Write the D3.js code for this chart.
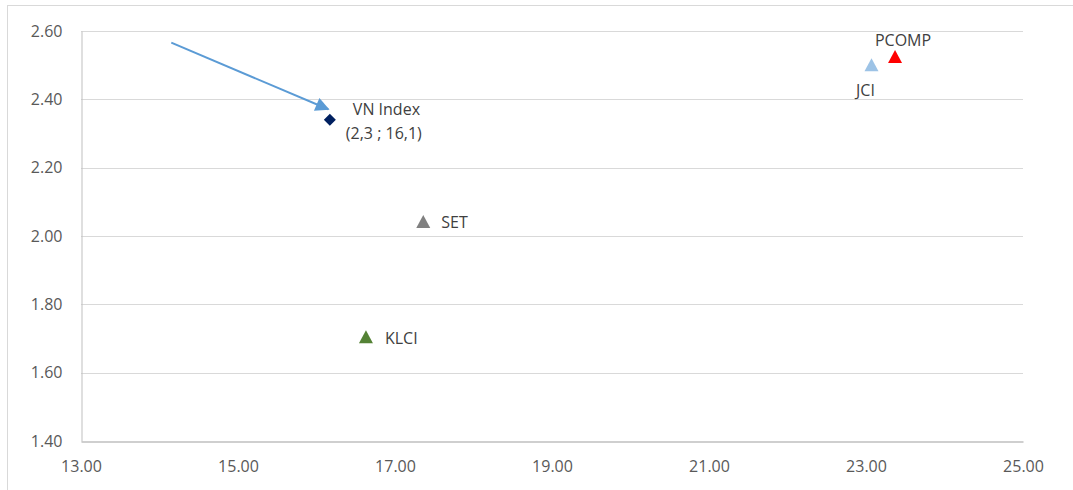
<!DOCTYPE html>
<html>
<head>
<meta charset="utf-8">
<script src="https://cdn.jsdelivr.net/npm/d3@7"></script>
<style>
  body { margin: 0; background: #fff; }
  svg text { font-family: "Open Sans", sans-serif; }
</style>
</head>
<body>
<div id="chart"></div>
<script>
// markets: label, P/B-ish (y) vs P/E-ish (x)
var names = ["VN Index", "JCI", "PCOMP", "SET", "KLCI"];
var xVals = [16.17, 23.07, 23.37, 17.36, 16.63];
var yVals = [2.34, 2.50, 2.524, 2.041, 1.704];
var shapes = ["diamond", "triangle", "triangle", "triangle", "triangle"];
var colors = ["#002060", "#9dc3e6", "#ff0000", "#808080", "#548235"];
var xTicks = [13, 15, 17, 19, 21, 23, 25];
var yTicks = [1.4, 1.6, 1.8, 2.0, 2.2, 2.4, 2.6];
// arrow annotation, start and end in data units
var arrowX = [14.15, 16.15];
var arrowY = [2.566, 2.371];

var W = 1073, H = 490,
	margin = {left: 81, right: 50, top: 31, bottom: 49};

var svg = d3.select("#chart").append("svg")
	.attr("width", W)
	.attr("height", H);

// outer frame
svg.append("rect")
	.attr("x", 7.5).attr("y", 5.5)
	.attr("width", W + 20).attr("height", H + 20)
	.attr("fill", "none")
	.attr("stroke", "#d9d9d9");

var x = d3.scaleLinear().domain([13, 25]).range([margin.left, W - margin.right]);
var y = d3.scaleLinear().domain([1.4, 2.6]).range([H - margin.bottom, margin.top]);

// gridlines
svg.append("g")
	.selectAll("line")
	.data(yTicks.slice(1))
	.join("line")
	.attr("x1", x(13)).attr("x2", x(25))
	.attr("y1", function(d){ return Math.round(y(d)) + 0.5; })
	.attr("y2", function(d){ return Math.round(y(d)) + 0.5; })
	.attr("stroke", "#d9d9d9")
	.attr("stroke-width", 1);

var yAxis = svg.append("g")
	.attr("transform", "translate(" + (x(13) + 0.5) + ",0)")
	.call(d3.axisLeft(y).tickValues(yTicks).tickFormat(d3.format(".2f")).tickSize(0).tickPadding(19));
yAxis.select(".domain").attr("stroke", "#bfbfbf");
yAxis.selectAll("text").attr("fill", "#595959").style("font-size", "16px");

var xAxis = svg.append("g")
	.attr("transform", "translate(0," + (y(1.4) + 0.5) + ")")
	.call(d3.axisBottom(x).tickValues(xTicks).tickFormat(d3.format(".2f")).tickSize(0).tickPadding(19));
xAxis.select(".domain").attr("stroke", "#bfbfbf").attr("stroke-width", 1.5);
xAxis.selectAll("text").attr("fill", "#595959").style("font-size", "16px");

// arrow
var defs = svg.append("defs");
defs.append("marker")
	.attr("id", "head")
	.attr("viewBox", "0 0 10 10")
	.attr("refX", 9).attr("refY", 5)
	.attr("markerWidth", 16).attr("markerHeight", 14)
	.attr("markerUnits", "userSpaceOnUse")
	.attr("orient", "auto")
	.append("path")
	.attr("d", "M0,0 L10,5 L0,10 Z")
	.attr("fill", "#5b9bd5");

svg.append("line")
	.attr("x1", x(arrowX[0])).attr("y1", y(arrowY[0]))
	.attr("x2", x(arrowX[1])).attr("y2", y(arrowY[1]))
	.attr("stroke", "#5b9bd5")
	.attr("stroke-width", 2)
	.attr("marker-end", "url(#head)");

// points
var pts = names.map(function(n, i){
	return {name: n, x: xVals[i], y: yVals[i], shape: shapes[i], color: colors[i]};
});

svg.append("g")
	.selectAll("path")
	.data(pts)
	.join("path")
	.attr("transform", function(d){ return "translate(" + x(d.x) + "," + y(d.y) + ")"; })
	.attr("d", function(d){
		return d.shape == "diamond" ? "M0,-6 L6,0 L0,6 L-6,0 Z" : "M0,-7 L7,6 L-7,6 Z";
	})
	.attr("fill", function(d){ return d.color; });

// labels
var labelPos = {
	"VN Index": {dx: 23, dy: -10, anchor: "start"},
	"JCI": {dx: -6, dy: 25, anchor: "middle"},
	"PCOMP": {dx: 8, dy: -17, anchor: "middle"},
	"SET": {dx: 18, dy: 0, anchor: "start"},
	"KLCI": {dx: 19, dy: 1, anchor: "start"}
};

svg.append("g")
	.selectAll("text")
	.data(pts)
	.join("text")
	.attr("x", function(d){ return x(d.x) + labelPos[d.name].dx; })
	.attr("y", function(d){ return y(d.y) + labelPos[d.name].dy; })
	.attr("dy", "0.35em")
	.attr("text-anchor", function(d){ return labelPos[d.name].anchor; })
	.attr("fill", "#404040")
	.style("font-size", "16px")
	.text(function(d){ return d.name; });

svg.append("text")
	.attr("x", x(xVals[0]) + 16)
	.attr("y", y(yVals[0]) + 14)
	.attr("dy", "0.35em")
	.attr("fill", "#404040")
	.style("font-size", "16px")
	.text("(2,3 ; 16,1)");
</script>
</body>
</html>
